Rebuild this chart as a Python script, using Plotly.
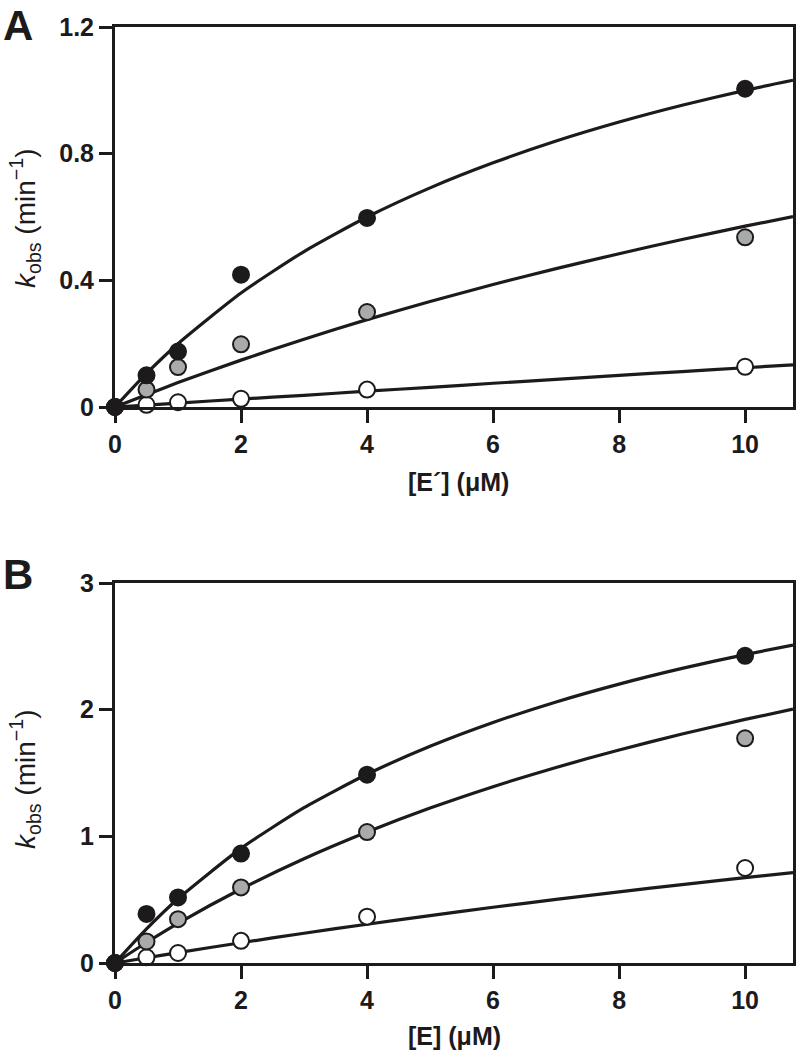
import plotly.graph_objects as go

# ---------------- data ----------------
conc = [0, 0.5, 1, 2, 4, 10]

# Panel A: kobs vs [E']
a_black = [0, 0.10, 0.175, 0.418, 0.597, 1.005]
a_grey = [0, 0.055, 0.126, 0.198, 0.30, 0.536]
a_white = [0, 0.007, 0.015, 0.026, 0.055, 0.127]

# Panel B: kobs vs [E]
b_black = [0, 0.387, 0.518, 0.864, 1.487, 2.425]
b_grey = [0, 0.17, 0.346, 0.597, 1.034, 1.774]
b_white = [0, 0.045, 0.079, 0.175, 0.366, 0.75]

# fitted curves
fit_x = [0, 0.5, 1, 2, 3, 4, 5, 6, 7, 8, 9, 10, 10.76]
a_black_fit = [0, 0.106, 0.20, 0.36, 0.491, 0.60, 0.692, 0.771, 0.84, 0.90, 0.953, 1.0, 1.032]
a_grey_fit = [0, 0.039, 0.077, 0.148, 0.214, 0.276, 0.333, 0.387, 0.437, 0.484, 0.529, 0.571, 0.601]
a_white_fit = [0, 0.006, 0.0125, 0.025, 0.037, 0.05, 0.062, 0.075, 0.087, 0.10, 0.112, 0.124, 0.133]
b_black_fit = [0, 0.269, 0.507, 0.905, 1.226, 1.49, 1.711, 1.899, 2.061, 2.202, 2.326, 2.435, 2.51]
b_grey_fit = [0, 0.162, 0.313, 0.584, 0.823, 1.034, 1.223, 1.392, 1.544, 1.682, 1.808, 1.923, 2.004]
b_white_fit = [0, 0.0416, 0.082, 0.16, 0.235, 0.306, 0.374, 0.44, 0.502, 0.562, 0.619, 0.674, 0.714]

x_ticks = [0, 2, 4, 6, 8, 10]
a_yticks = [0, 0.4, 0.8, 1.2]
b_yticks = [0, 1, 2, 3]

# ---------------- style ----------------
INK = "#1c1a1b"
FONT = "Liberation Sans, Arial, Helvetica, sans-serif"
fills = {"black": INK, "grey": "#a9aaac", "white": "#ffffff"}

fig = go.Figure()

def add_panel(xa, ya, fits, pts):
    for fy in fits:
        fig.add_trace(go.Scatter(x=fit_x, y=fy, mode="lines",
                                 line=dict(color=INK, width=3.2, shape="spline", smoothing=0.6),
                                 xaxis=xa, yaxis=ya, showlegend=False, hoverinfo="skip"))
    for key in ["white", "grey", "black"]:
        fig.add_trace(go.Scatter(x=conc, y=pts[key], mode="markers",
                                 marker=dict(size=16, color=fills[key],
                                             line=dict(color=INK, width=2)),
                                 xaxis=xa, yaxis=ya, showlegend=False, cliponaxis=False))

add_panel("x", "y", [a_black_fit, a_grey_fit, a_white_fit],
          {"black": a_black, "grey": a_grey, "white": a_white})
add_panel("x2", "y2", [b_black_fit, b_grey_fit, b_white_fit],
          {"black": b_black, "grey": b_grey, "white": b_white})

W, H = 796, 1050
xdom = [115 / W, 793 / W]
ydomA = [1 - 407 / H, 1 - 27 / H]
ydomB = [1 - 963 / H, 1 - 583 / H]

tickfont = dict(family=FONT, size=25, color=INK, weight="bold")
common_x = dict(range=[0, 10.76], tickvals=x_ticks, ticks="outside", ticklen=13, tickwidth=3,
                tickcolor=INK, showline=True, linewidth=3, linecolor=INK, mirror=True,
                showgrid=False, zeroline=False, tickfont=tickfont, domain=xdom,
                automargin=False)
common_y = dict(ticks="outside", ticklen=13, tickwidth=3, tickcolor=INK, showline=True,
                linewidth=3, linecolor=INK, mirror=True, showgrid=False, zeroline=False,
                tickfont=tickfont, automargin=False)

fig.update_layout(
    width=W, height=H,
    margin=dict(l=0, r=0, t=0, b=0, autoexpand=False),
    plot_bgcolor="white", paper_bgcolor="white",
    xaxis=dict(**common_x, anchor="y"),
    yaxis=dict(**common_y, range=[0, 1.2], tickvals=a_yticks,
               ticktext=["0", "0.4", "0.8", "1.2"], domain=ydomA, anchor="x"),
    xaxis2=dict(**common_x, anchor="y2"),
    yaxis2=dict(**common_y, range=[0, 3], tickvals=b_yticks, domain=ydomB, anchor="x2"),
)

title_font = dict(family=FONT, size=25, color=INK, weight="bold")
ytitle_font = dict(family=FONT, size=28, color=INK)
ann = []
ann.append(dict(text="[E\u00b4] (\u03bcM)", x=458 / W, y=1 - 482 / H, xref="paper", yref="paper",
                showarrow=False, font=title_font, xanchor="center", yanchor="middle"))
ann.append(dict(text="[E] (\u03bcM)", x=454 / W, y=1 - 1036 / H, xref="paper", yref="paper",
                showarrow=False, font=title_font, xanchor="center", yanchor="middle"))
ytitle = "<i>k</i><sub>obs</sub> (min<sup>\u22121</sup>)"
ann.append(dict(text=ytitle, x=25 / W, y=1 - 218 / H, xref="paper", yref="paper", textangle=-90,
                showarrow=False, font=ytitle_font, xanchor="center", yanchor="middle"))
ann.append(dict(text=ytitle, x=25 / W, y=1 - 779 / H, xref="paper", yref="paper", textangle=-90,
                showarrow=False, font=ytitle_font, xanchor="center", yanchor="middle"))
ann.append(dict(text="A", x=2 / W, y=1 - 25 / H, xref="paper", yref="paper", showarrow=False,
                font=dict(family=FONT, size=42, color=INK, weight="bold"),
                xanchor="left", yanchor="middle", borderpad=0))
ann.append(dict(text="B", x=2 / W, y=1 - 574 / H, xref="paper", yref="paper", showarrow=False,
                font=dict(family=FONT, size=42, color=INK, weight="bold"),
                xanchor="left", yanchor="middle", borderpad=0))
fig.update_layout(annotations=ann)

fig.write_html("out.html", config={"displayModeBar": False},
               post_script="document.body.style.margin='0';")
